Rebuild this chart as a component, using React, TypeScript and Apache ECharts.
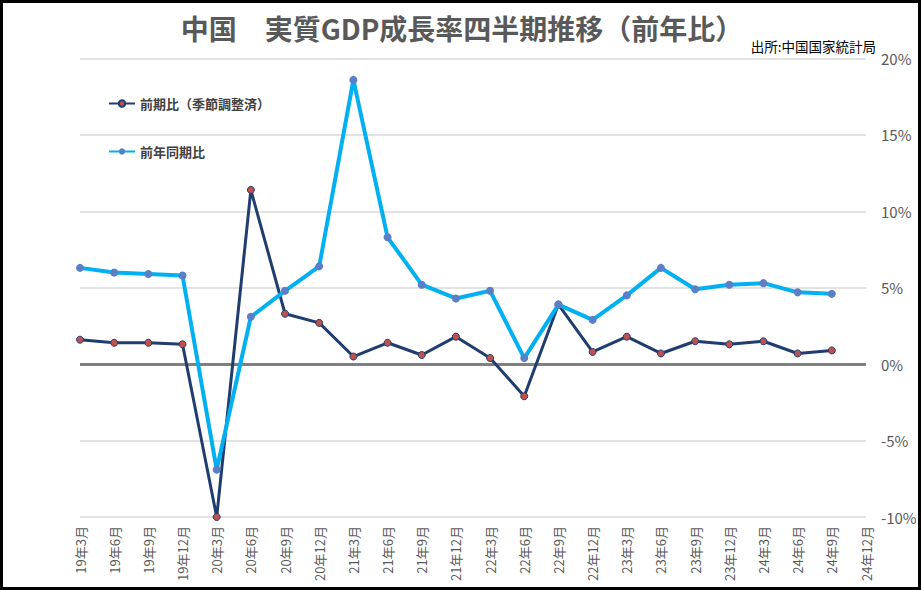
import React, { useEffect, useRef } from "react";
import * as echarts from "echarts";

const categories = [
  "19年3月", "19年6月", "19年9月", "19年12月",
  "20年3月", "20年6月", "20年9月", "20年12月",
  "21年3月", "21年6月", "21年9月", "21年12月",
  "22年3月", "22年6月", "22年9月", "22年12月",
  "23年3月", "23年6月", "23年9月", "23年12月",
  "24年3月", "24年6月", "24年9月", "24年12月",
];

const qoqName = "前期比（季節調整済）";
const qoqValues: (number | null)[] = [
  1.6, 1.4, 1.4, 1.3,
  -10.0, 11.4, 3.3, 2.7,
  0.5, 1.4, 0.6, 1.8,
  0.4, -2.1, 3.9, 0.8,
  1.8, 0.7, 1.5, 1.3,
  1.5, 0.7, 0.9, null,
];

const yoyName = "前年同期比";
const yoyValues: (number | null)[] = [
  6.3, 6.0, 5.9, 5.8,
  -6.9, 3.1, 4.8, 6.4,
  18.6, 8.3, 5.2, 4.3,
  4.8, 0.4, 3.9, 2.9,
  4.5, 6.3, 4.9, 5.2,
  5.3, 4.7, 4.6, null,
];

const titleText = "中国　実質GDP成長率四半期推移（前年比）";
const sourceText = "出所:中国国家統計局";

const FONT = "'Noto Sans CJK JP', 'Noto Sans', sans-serif";

export default function App() {
  const ref = useRef<HTMLDivElement>(null);

  useEffect(() => {
    if (!ref.current) return;
    const chart = echarts.init(ref.current, undefined, { renderer: "svg" });
    chart.setOption({
      animation: false,
      backgroundColor: "#ffffff",
      textStyle: { fontFamily: FONT },
      title: [
        {
          text: titleText,
          left: 462,
          textAlign: "center",
          top: 14,
          padding: 0,
          textStyle: { fontSize: 28, fontWeight: "bold", color: "#595959", fontFamily: FONT },
        },
        {
          text: sourceText,
          right: 45,
          top: 39,
          padding: 0,
          textStyle: { fontSize: 13.5, fontWeight: "normal", color: "#000000", fontFamily: FONT },
        },
      ],
      legend: {
        orient: "vertical",
        left: 108,
        top: 97,
        itemWidth: 26,
        itemHeight: 8,
        itemGap: 35,
        padding: 0,
        textStyle: { fontSize: 13, fontWeight: "bold", color: "#404040", fontFamily: FONT },
        data: [qoqName, yoyName],
      },
      grid: { left: 80, right: 55, top: 58.5, bottom: 73, containLabel: false },
      xAxis: {
        type: "category",
        data: categories,
        boundaryGap: false,
        axisLine: { show: false },
        axisTick: { show: false },
        axisLabel: {
          interval: 0,
          rotate: 90,
          margin: 9,
          fontSize: 13,
          color: "#595959",
          fontFamily: FONT,
        },
        splitLine: { show: false },
      },
      yAxis: {
        type: "value",
        position: "right",
        min: -10,
        max: 20,
        interval: 5,
        axisLine: { show: false },
        axisTick: { show: false },
        axisLabel: {
          formatter: "{value}%",
          fontSize: 15,
          color: "#595959",
          margin: 15,
          fontFamily: FONT,
        },
        splitLine: { lineStyle: { color: "#d9d9d9", width: 1.5 } },
      },
      series: [
        {
          name: qoqName,
          type: "line",
          data: qoqValues,
          symbol: "circle",
          symbolSize: 7,
          lineStyle: { color: "#1f3d6e", width: 3 },
          itemStyle: { color: "#c0504d", borderColor: "#1f3d6e", borderWidth: 1 },
          z: 3,
          markLine: {
            silent: true,
            symbol: "none",
            label: { show: false },
            lineStyle: { color: "#808080", width: 3, type: "solid" },
            data: [{ yAxis: 0 }],
            z: 1,
          },
        },
        {
          name: yoyName,
          type: "line",
          data: yoyValues,
          symbol: "circle",
          symbolSize: 8,
          lineStyle: { color: "#00b0f0", width: 4 },
          itemStyle: { color: "#5a7fc6", borderColor: "#5a7fc6", borderWidth: 0 },
          z: 4,
        },
      ],
      graphic: [
        {
          type: "rect",
          shape: { x: 1.5, y: 1.5, width: 918, height: 587 },
          style: { fill: "none", stroke: "#000000", lineWidth: 3 },
          silent: true,
          z: 100,
        },
      ],
    });
    return () => chart.dispose();
  }, []);

  return (
    <div
      ref={ref}
      style={{ position: "fixed", left: 0, top: 0, width: 921, height: 590 }}
    />
  );
}
